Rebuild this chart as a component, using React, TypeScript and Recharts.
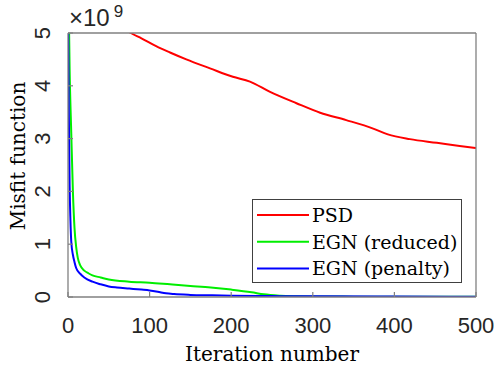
import React from "react";
import { LineChart, Line, XAxis, YAxis, Legend, Label } from "recharts";

// values are in units of 1e9 (the axis shows "x10^9")
const xTicks = [0, 100, 200, 300, 400, 500];
const yTicks = [0, 1, 2, 3, 4, 5];
const seriesNames = ["PSD", "EGN (reduced)", "EGN (penalty)"];

const psdIter = [60, 77, 90, 108, 125, 145, 174, 202, 223, 247, 280, 309, 341, 374, 392, 419, 452, 480, 500];
const psdVal = [5.2, 5.0, 4.9, 4.75, 4.63, 4.5, 4.33, 4.17, 4.08, 3.89, 3.67, 3.49, 3.35, 3.19, 3.08, 2.99, 2.92, 2.86, 2.82];

const redIter = [0, 2, 4, 6, 8, 10, 12, 15, 20, 25, 30, 40, 50, 75, 100, 125, 150, 175, 200, 225, 240, 260, 280, 300, 350, 400, 450, 500];
const redVal = [6.5, 4.3, 3.1, 2.0, 1.3, 0.95, 0.74, 0.6, 0.5, 0.45, 0.41, 0.37, 0.33, 0.29, 0.27, 0.24, 0.21, 0.18, 0.14, 0.09, 0.05, 0.025, 0.015, 0.01, 0.007, 0.005, 0.004, 0.003];

const penIter = [0, 1, 2, 3, 4, 6, 8, 10, 15, 20, 30, 40, 50, 60, 75, 90, 100, 110, 120, 130, 150, 175, 200, 250, 300, 400, 500];
const penVal = [5.5, 3.5, 2.1, 1.45, 1.05, 0.8, 0.66, 0.55, 0.44, 0.37, 0.29, 0.24, 0.2, 0.18, 0.16, 0.14, 0.125, 0.1, 0.07, 0.055, 0.04, 0.032, 0.025, 0.018, 0.012, 0.008, 0.005];

const zip = (xs: number[], ys: number[]) => xs.map((iter, i) => ({ iter, v: ys[i] }));
const psdData = zip(psdIter, psdVal);
const redData = zip(redIter, redVal);
const penData = zip(penIter, penVal);

const AXIS = "#808080";
const TXT = "#262626";
const SANS = "'Liberation Sans', Arial, sans-serif";
const SERIF = "'DejaVu Serif', serif";
const TICK = 5;

function BottomTick(props: any) {
  const { x, y, payload } = props;
  return (
    <g>
      <line x1={x} x2={x} y1={y} y2={y - TICK} stroke={AXIS} strokeWidth={1.2} />
      <text x={x} y={y + 36} textAnchor="middle" fontFamily={SANS} fontSize={22} fill={TXT}>
        {payload.value}
      </text>
    </g>
  );
}

function TopTick(props: any) {
  const { x, y } = props;
  return <line x1={x} x2={x} y1={y} y2={y + TICK} stroke={AXIS} strokeWidth={1.2} />;
}

function LeftTick(props: any) {
  const { x, y, payload } = props;
  return (
    <g>
      <line x1={x} x2={x + TICK} y1={y} y2={y} stroke={AXIS} strokeWidth={1.2} />
      <g transform={`translate(50, ${y}) rotate(-90)`}>
        <text x={0} y={0} textAnchor="middle" fontFamily={SANS} fontSize={22} fill={TXT}>
          {payload.value}
        </text>
      </g>
    </g>
  );
}

function RightTick(props: any) {
  const { x, y } = props;
  return <line x1={x} x2={x - TICK} y1={y} y2={y} stroke={AXIS} strokeWidth={1.2} />;
}

function LegendBox(props: any) {
  const items = [...(props.payload || [])].sort(
    (a: any, b: any) => seriesNames.indexOf(a.value) - seriesNames.indexOf(b.value)
  );
  return (
    <div style={{ width: 210, height: 84, boxSizing: "border-box", border: "1px solid #404040", background: "#fff" }}>
      <svg width={208} height={82}>
        {items.map((it: any, i: number) => {
          const cy = 15 + i * 26.7;
          return (
            <g key={it.value}>
              <line x1={4} x2={56} y1={cy} y2={cy} stroke={it.color} strokeWidth={2} />
              <text x={59} y={cy + 7} fontFamily={SERIF} fontSize={19} fill="#000">
                {it.value}
              </text>
            </g>
          );
        })}
      </svg>
    </div>
  );
}

export default function App() {
  return (
    <div style={{ position: "absolute", left: 0, top: 0, width: 498, height: 365, background: "#fff" }}>
      <LineChart width={498} height={365} margin={{ top: 0, right: 0, bottom: 0, left: 0 }}>
        <XAxis
          xAxisId="b"
          type="number"
          dataKey="iter"
          domain={[0, 500]}
          ticks={xTicks}
          interval={0}
          allowDataOverflow
          height={68}
          tickSize={0}
          tickMargin={0}
          tickLine={false}
          axisLine={{ stroke: AXIS, strokeWidth: 1.3 }}
          tick={<BottomTick />}
        >
          <Label
            content={() => (
              <text x={272} y={361} textAnchor="middle" fontFamily={SERIF} fontSize={20} fill="#000">
                Iteration number
              </text>
            )}
          />
        </XAxis>
        <XAxis
          xAxisId="t"
          orientation="top"
          type="number"
          dataKey="iter"
          domain={[0, 500]}
          ticks={xTicks}
          interval={0}
          height={33}
          tickSize={0}
          tickMargin={0}
          tickLine={false}
          axisLine={{ stroke: AXIS, strokeWidth: 1.3 }}
          tick={<TopTick />}
        >
          <Label
            content={() => (
              <text x={69} y={26} fontFamily={SANS} fill={TXT}>
                <tspan fontSize={24}>×10</tspan>
                <tspan fontSize={17} dx={4} dy={-9}>9</tspan>
              </text>
            )}
          />
        </XAxis>
        <YAxis
          yAxisId="l"
          type="number"
          domain={[0, 5]}
          ticks={yTicks}
          interval={0}
          allowDataOverflow
          width={68}
          tickSize={0}
          tickMargin={0}
          tickLine={false}
          axisLine={{ stroke: AXIS, strokeWidth: 1.3 }}
          tick={<LeftTick />}
        >
          <Label
            content={() => (
              <g transform="translate(25, 156) rotate(-90)">
                <text x={0} y={0} textAnchor="middle" fontFamily={SERIF} fontSize={20} fill="#000">
                  Misfit function
                </text>
              </g>
            )}
          />
        </YAxis>
        <YAxis
          yAxisId="r"
          orientation="right"
          type="number"
          domain={[0, 5]}
          ticks={yTicks}
          interval={0}
          width={22}
          tickSize={0}
          tickMargin={0}
          tickLine={false}
          axisLine={{ stroke: AXIS, strokeWidth: 1.3 }}
          tick={<RightTick />}
        />
        <Legend
          layout="vertical"
          align="center"
          verticalAlign="middle"
          content={<LegendBox />}
          wrapperStyle={{ position: "absolute", left: 252, top: 199, width: 210, height: 84 }}
        />
        <Line
          xAxisId="b"
          yAxisId="l"
          data={psdData}
          dataKey="v"
          name="PSD"
          type="monotone"
          stroke="#ff0000"
          strokeWidth={2}
          dot={false}
          isAnimationActive={false}
        />
        <Line
          xAxisId="b"
          yAxisId="l"
          data={redData}
          dataKey="v"
          name="EGN (reduced)"
          type="monotone"
          stroke="#00ee00"
          strokeWidth={2}
          dot={false}
          isAnimationActive={false}
        />
        <Line
          xAxisId="b"
          yAxisId="l"
          data={penData}
          dataKey="v"
          name="EGN (penalty)"
          type="monotone"
          stroke="#0000ff"
          strokeWidth={2}
          dot={false}
          isAnimationActive={false}
        />
      </LineChart>
    </div>
  );
}
